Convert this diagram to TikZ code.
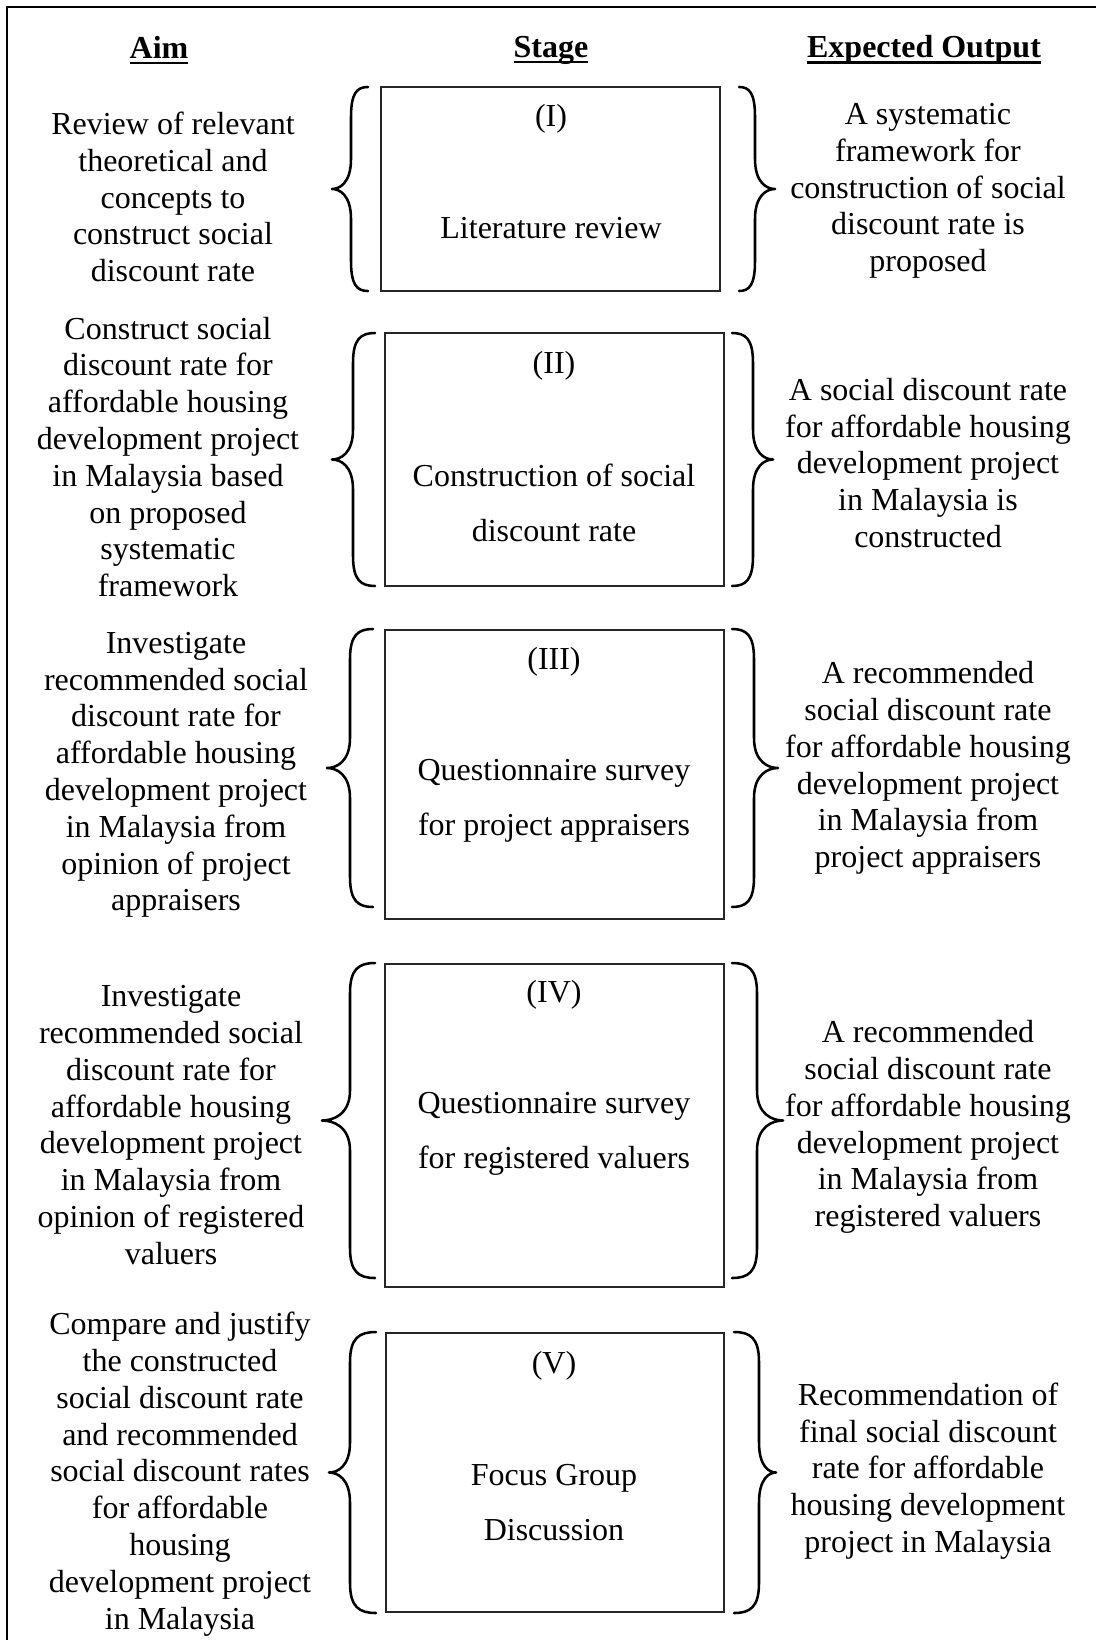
\documentclass[tikz,border=0pt]{standalone}
\usepackage{fontspec}
\setmainfont{Liberation Serif}
\usetikzlibrary{fit}
\newcommand\hdul[1]{\setbox0\hbox{#1}\rlap{\rule[-2.2pt]{\wd0}{0.8pt}}\box0}
% brace: #1 end x, #2 line x, #3 tip x, #4 top y, #5 bottom y, #6 mid y
\newcommand\drawbrace[6]{%
  \draw[brc] (#1,#4) .. controls ({#2+0.35*(#1-#2)},#4) and (#2,{#4+6}) .. ({#2},{#4+30})
    -- ({#2},{#6-30})
    .. controls (#2,{#6-6}) and ({#3+0.4*(#2-#3)},#6) .. (#3,#6)
    .. controls ({#3+0.4*(#2-#3)},#6) and (#2,{#6+6}) .. ({#2},{#6+30})
    -- ({#2},{#5-30}) .. controls (#2,{#5-6}) and ({#2+0.35*(#1-#2)},#5) .. (#1,#5);}
\begin{document}
\begin{tikzpicture}[x=0.375pt,y=-0.375pt,
  txt/.style={align=center,font=\fontsize{12}{13.8}\selectfont,inner sep=0pt},
  boxtxt/.style={align=center,font=\fontsize{12}{20.6}\selectfont,inner sep=0pt},
  hdr/.style={font=\fontsize{12}{13.8}\selectfont\bfseries,inner sep=0pt},
  stagebox/.style={draw=black!85,line width=0.45pt,inner sep=0pt},
  brc/.style={line width=0.95pt,line cap=round,line join=round}]
\useasboundingbox (0,0) rectangle (1096,1640);
\draw[line width=0.45pt] (7,1640) -- (7,7) -- (1096,7);

% headers
\node[hdr] (haim) at (159,50) {\hdul{Aim}};
\node[hdr] (hstage) at (551,50) {\hdul{Stage}};
\node[hdr] (hout) at (924,50) {\hdul{Expected Output}};

% stage boxes
\node[stagebox, fit={(381,87) (720,291)}] (b1) {};
\node[stagebox, fit={(385,333) (724,586)}] (b2) {};
\node[stagebox, fit={(385,630) (724,919)}] (b3) {};
\node[stagebox, fit={(385,964) (724,1287)}] (b4) {};
\node[stagebox, fit={(386,1333) (724,1612)}] (b5) {};

% box texts
\node[boxtxt] (n1) at (551,119) {(I)};
\node[boxtxt] (s1) at (551,228) {Literature review};
\node[boxtxt] (n2) at (554,366) {(II)};
\node[boxtxt] (s2) at (554,503) {Construction of social\\discount rate};
\node[boxtxt] (n3) at (554,662) {(III)};
\node[boxtxt] (s3) at (554,800.5) {Questionnaire survey\\for project appraisers};
\node[boxtxt] (n4) at (554,995) {(IV)};
\node[boxtxt] (s4) at (554,1133.5) {Questionnaire survey\\for registered valuers};
\node[boxtxt] (n5) at (554,1366) {(V)};
\node[boxtxt] (s5) at (554,1502.5) {Focus Group\\Discussion};

% braces
\drawbrace{368}{351}{332}{87}{291}{189}
\drawbrace{739}{755}{775}{87}{291}{189}
\drawbrace{375}{353}{332}{333}{586}{459.5}
\drawbrace{732}{753}{773}{333}{586}{459.5}
\drawbrace{373}{350}{327}{629}{907}{768}
\drawbrace{732}{754}{778}{629}{907}{768}
\drawbrace{375}{350}{322}{963}{1278}{1120.5}
\drawbrace{732}{757}{783}{963}{1278}{1120.5}
\drawbrace{376}{350}{329}{1332}{1613}{1472.5}
\drawbrace{734}{759}{776}{1332}{1613}{1472.5}

% aims
\node[txt] (a1) at (173,197) {Review of relevant\\theoretical and\\concepts to\\construct social\\discount rate};
\node[txt] (a2) at (168,457) {Construct social\\discount rate for\\affordable housing\\development project\\in Malaysia based\\on proposed\\systematic\\framework};
\node[txt] (a3) at (176,775) {Investigate\\recommended social\\discount rate for\\affordable housing\\development project\\in Malaysia from\\opinion of project\\appraisers};
\node[txt] (a4) at (171,1125) {Investigate\\recommended social\\discount rate for\\affordable housing\\development project\\in Malaysia from\\opinion of registered\\valuers};
\node[txt] (a5) at (180,1474) {Compare and justify\\the constructed\\social discount rate\\and recommended\\social discount rates\\for affordable\\housing\\development project\\in Malaysia};

% outputs
\node[txt] (o1) at (928,191) {A systematic\\framework for\\construction of social\\discount rate is\\proposed};
\node[txt] (o2) at (928,463) {A social discount rate\\for affordable housing\\development project\\in Malaysia is\\constructed};
\node[txt] (o3) at (928,768) {A recommended\\social discount rate\\for affordable housing\\development project\\in Malaysia from\\project appraisers};
\node[txt] (o4) at (928,1127) {A recommended\\social discount rate\\for affordable housing\\development project\\in Malaysia from\\registered valuers};
\node[txt] (o5) at (928,1471) {Recommendation of\\final social discount\\rate for affordable\\housing development\\project in Malaysia};
\end{tikzpicture}
\end{document}
